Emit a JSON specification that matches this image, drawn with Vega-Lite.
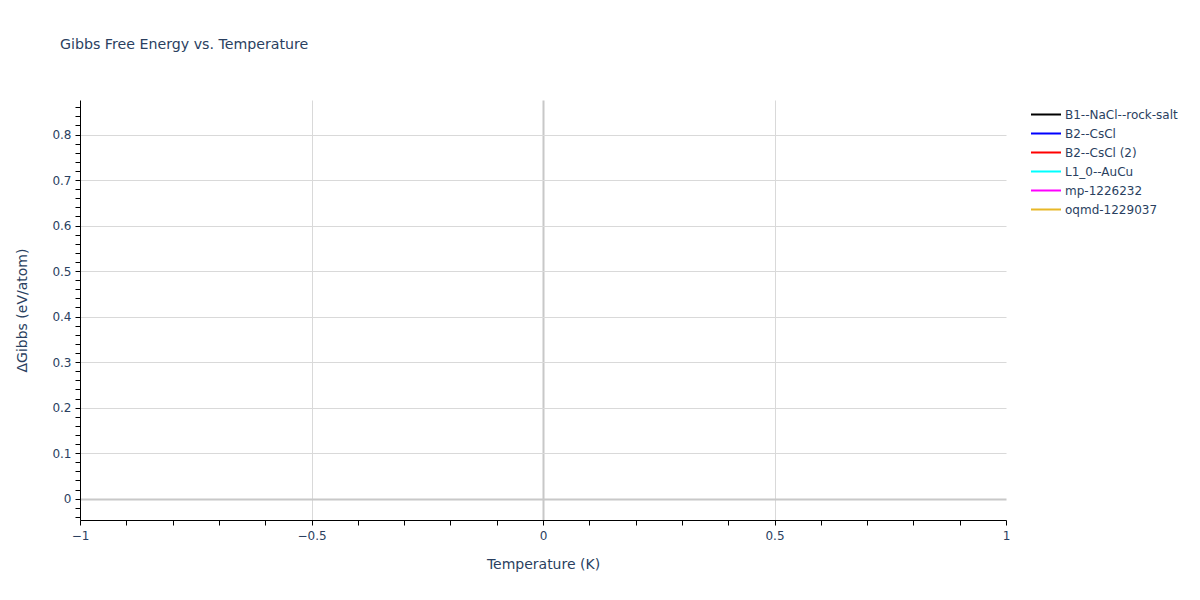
{
  "$schema": "https://vega.github.io/schema/vega-lite/v6.json",
  "autosize": {"type": "none"},
  "width": 926,
  "height": 420,
  "padding": {"left": 80, "top": 100, "right": 194, "bottom": 80},
  "background": "white",
  "config": {
    "font": "DejaVu Sans",
    "view": {"stroke": null},
    "axis": {"labelFont": "DejaVu Sans", "titleFont": "DejaVu Sans", "labelColor": "#2a3f5f", "titleColor": "#2a3f5f", "titleFontWeight": "normal", "labelFontSize": 12, "titleFontSize": 14}
  },
  "title": {
    "text": "Gibbs Free Energy vs. Temperature",
    "anchor": "start",
    "frame": "group",
    "dx": -20,
    "offset": 48,
    "font": "DejaVu Sans",
    "fontSize": 14.2,
    "fontWeight": "normal",
    "color": "#2a3f5f"
  },
  "data": {
    "values": [
      {"structure": "B1--NaCl--rock-salt", "temperature": null, "dG": null},
      {"structure": "B2--CsCl", "temperature": null, "dG": null},
      {"structure": "B2--CsCl (2)", "temperature": null, "dG": null},
      {"structure": "L1_0--AuCu", "temperature": null, "dG": null},
      {"structure": "mp-1226232", "temperature": null, "dG": null},
      {"structure": "oqmd-1229037", "temperature": null, "dG": null}
    ]
  },
  "mark": {"type": "line", "strokeWidth": 2},
  "encoding": {
    "x": {
      "field": "temperature",
      "type": "quantitative",
      "title": "Temperature (K)",
      "scale": {"domain": [-1, 1], "nice": false, "zero": false},
      "axis": {
        "values": [-1, -0.9, -0.8, -0.7, -0.6, -0.5, -0.4, -0.3, -0.2, -0.1, 0, 0.1, 0.2, 0.3, 0.4, 0.5, 0.6, 0.7, 0.8, 0.9, 1],
        "labelExpr": "abs(datum.value*2 - round(datum.value*2)) < 0.000001 ? format(datum.value, '.1~f') : ''",
        "labelFlush": false,
        "domainColor": "black",
        "tickColor": "black",
        "tickSize": 5,
        "labelPadding": 5,
        "titlePadding": 16,
        "grid": true,
        "gridColor": {"condition": {"test": "datum.value === 0", "value": "#c8c8c8"}, "value": "#d9d9d9"},
        "gridWidth": {"condition": {"test": "datum.value === 0", "value": 2}, "value": 1},
        "gridOpacity": {"condition": {"test": "abs(datum.value*2 - round(datum.value*2)) < 0.000001 && abs(datum.value) < 0.99", "value": 1}, "value": 0}
      }
    },
    "y": {
      "field": "dG",
      "type": "quantitative",
      "title": "ΔGibbs (eV/atom)",
      "scale": {"domain": [-0.047, 0.876], "nice": false, "zero": false},
      "axis": {
        "values": [-0.04, -0.02, 0, 0.02, 0.04, 0.06, 0.08, 0.1, 0.12, 0.14, 0.16, 0.18, 0.2, 0.22, 0.24, 0.26, 0.28, 0.3, 0.32, 0.34, 0.36, 0.38, 0.4, 0.42, 0.44, 0.46, 0.48, 0.5, 0.52, 0.54, 0.56, 0.58, 0.6, 0.62, 0.64, 0.66, 0.68, 0.7, 0.72, 0.74, 0.76, 0.78, 0.8, 0.82, 0.84, 0.86],
        "labelExpr": "abs(datum.value*10 - round(datum.value*10)) < 0.000001 ? (datum.value === 0 ? '0' : format(datum.value, '.1f')) : ''",
        "labelFlush": false,
        "domainColor": "black",
        "tickColor": "black",
        "tickSize": 5,
        "labelPadding": 4,
        "titlePadding": 22,
        "grid": true,
        "gridColor": {"condition": {"test": "datum.value === 0", "value": "#c8c8c8"}, "value": "#d9d9d9"},
        "gridWidth": {"condition": {"test": "datum.value === 0", "value": 2}, "value": 1},
        "gridOpacity": {"condition": {"test": "abs(datum.value*10 - round(datum.value*10)) < 0.000001", "value": 1}, "value": 0}
      }
    },
    "color": {
      "field": "structure",
      "type": "nominal",
      "scale": {
        "domain": ["B1--NaCl--rock-salt", "B2--CsCl", "B2--CsCl (2)", "L1_0--AuCu", "mp-1226232", "oqmd-1229037"],
        "range": ["#000000", "#0000ff", "#ff0000", "#00ffff", "#ff00ff", "#e8b828"]
      },
      "legend": {
        "title": null,
        "orient": "none",
        "legendX": 950,
        "legendY": 5,
        "symbolType": "stroke",
        "symbolSize": 900,
        "symbolStrokeWidth": 2,
        "clipHeight": 19,
        "rowPadding": 0,
        "labelFont": "DejaVu Sans",
        "labelFontSize": 12,
        "labelColor": "#2a3f5f",
        "labelOffset": 3
      }
    }
  }
}
